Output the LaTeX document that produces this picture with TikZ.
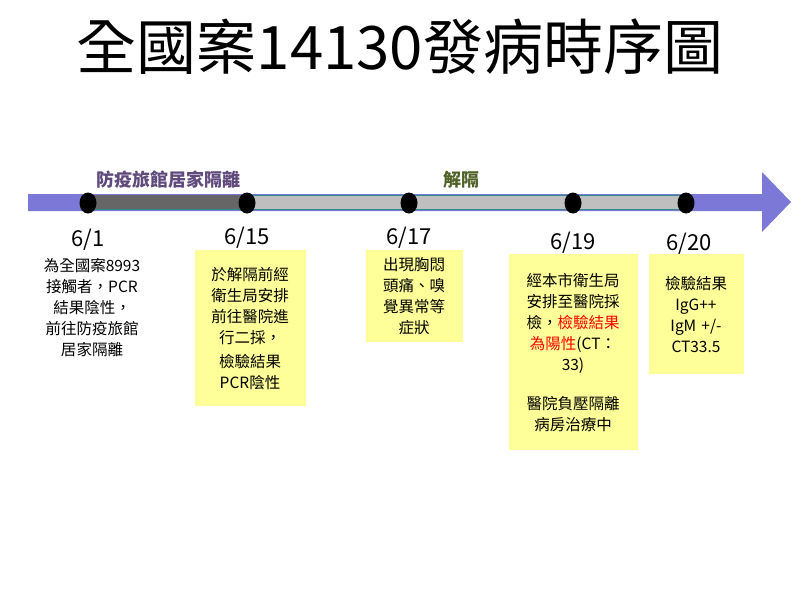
\documentclass[tikz,border=0pt]{standalone}
\usepackage{fontspec}
\setmainfont{Noto Sans CJK TC}
\usetikzlibrary{shapes.geometric}
\definecolor{arrowblue}{HTML}{7B78D8}
\definecolor{notey}{HTML}{FFFF99}
\definecolor{barteal}{HTML}{2E8B8B}
\definecolor{phasepurple}{HTML}{604A7B}
\definecolor{phasegreen}{HTML}{4F6228}
\tikzset{
  dot/.style={ellipse,fill=black,minimum width=17pt,minimum height=21pt,inner sep=0pt},
  date/.style={font=\fontsize{22}{24}\selectfont},
  note/.style={fill=notey,anchor=north,align=center,text width=#1,
    font=\fontsize{15.5}{21}\selectfont,inner sep=4pt},
  note/.default=100pt
}
\begin{document}
\begin{tikzpicture}[x=1pt,y=-1pt]
\useasboundingbox (0,0) rectangle (800,600);
\node (title) at (400,47) {\fontsize{60}{64}\selectfont 全國案14130發病時序圖};
% timeline
\fill[arrowblue] (28,194) -- (762,194) -- (762,172) -- (791,202) -- (762,232) -- (762,211) -- (28,211) -- cycle;
\draw[barteal,fill=black!25] (88,195) rectangle (686,209);
\fill[black!60] (88,195) rectangle (247,209);
\node[text=phasepurple,font=\fontsize{18}{20}\selectfont\bfseries] (quar) at (168,180) {防疫旅館居家隔離};
\node[text=phasegreen,font=\fontsize{18}{20}\selectfont\bfseries] (free) at (461,180) {解隔};
\foreach \n/\x in {a/88,b/247,c/409,d/573,e/686}
  \node[dot] (\n) at (\x,203) {};
% dates
\node[date] (d1) at (88,240) {6/1};
\node[date] (d2) at (247,238) {6/15};
\node[date] (d3) at (409,238) {6/17};
\node[date] (d4) at (573,243) {6/19};
\node[date] (d5) at (689,244) {6/20};
% notes
\node[note=116pt,fill=none] (n1) at (92,254) {為全國案8993\\接觸者，PCR\\結果陰性，\\前往防疫旅館\\居家隔離};
\node[note=103pt,minimum height=156pt] (n2) at (250,250) {於解隔前經\\衛生局安排\\前往醫院進\\行二採，\\[3pt]檢驗結果\\PCR陰性};
\node[note=89pt,minimum height=92pt] (n3) at (414,250) {出現胸悶\\頭痛、嗅\\覺異常等\\症狀};
\node[note=121pt,minimum height=196pt] (n4) at (573,254) {經本市衛生局\\安排至醫院採\\檢，\textcolor{red}{檢驗結果}\\\textcolor{red}{為陽性}(CT：\\33)\\[18pt]醫院負壓隔離\\病房治療中};
\node[note=87pt,minimum height=120pt] (n5) at (696,254) {檢驗結果\\IgG++\\IgM +/-\\CT33.5};
\end{tikzpicture}
\end{document}
